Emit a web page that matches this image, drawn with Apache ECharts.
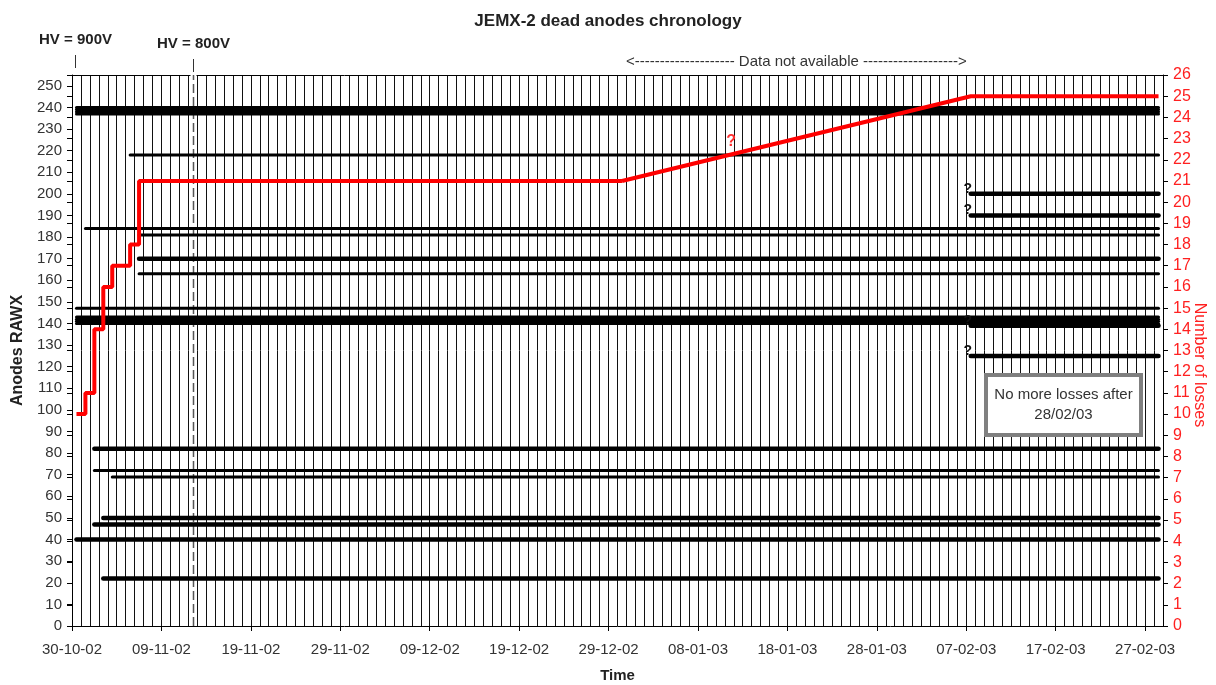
<!DOCTYPE html>
<html>
<head>
<meta charset="utf-8">
<script src="https://cdn.jsdelivr.net/npm/echarts@6/dist/echarts.min.js"></script>
<style>
  html, body { margin: 0; padding: 0; background: #fff; overflow: hidden; }
  #chart { width: 1216px; height: 685px; }
</style>
</head>
<body>
<div id="chart"></div>
<script>
// ---------------- DATA ----------------
const axisStartDate = '2002-10-30';
const axisEndDate = '2003-03-01';      // right boundary of the time axis
const lastDataDate = '2003-02-28';
const xTickLabels = ['30-10-02','09-11-02','19-11-02','29-11-02','09-12-02','19-12-02','29-12-02','08-01-03','18-01-03','28-01-03','07-02-03','17-02-03','27-02-03'];
const rawxTicks = [0,10,20,30,40,50,60,70,80,90,100,110,120,130,140,150,160,170,180,190,200,210,220,230,240,250];
const lossTicks = [0,1,2,3,4,5,6,7,8,9,10,11,12,13,14,15,16,17,18,19,20,21,22,23,24,25,26];

// dead anodes: RAWX and date of loss
const anodeRawx = [237,238,239,240,147,140,141,142,143,40,
                   184,
                   82,72,47,
                   50,22,
                   69,
                   218,
                   181,170,163,
                   200,190,139,125];
const anodeLossDate = ['2002-10-30','2002-10-30','2002-10-30','2002-10-30','2002-10-30','2002-10-30','2002-10-30','2002-10-30','2002-10-30','2002-10-30',
                       '2002-10-31',
                       '2002-11-01','2002-11-01','2002-11-01',
                       '2002-11-02','2002-11-02',
                       '2002-11-03',
                       '2002-11-05',
                       '2002-11-06','2002-11-06','2002-11-06',
                       '2003-02-07','2003-02-07','2003-02-07','2003-02-07'];
const anodeDateUncertain = [false,false,false,false,false,false,false,false,false,false,
                            false,false,false,false,false,false,false,false,false,false,false,
                            true,true,true,true];

// cumulative number of losses (known daily record)
const lossDates = ['2002-10-30','2002-10-31','2002-11-01','2002-11-02','2002-11-03','2002-11-05','2002-11-06','2002-12-30'];
const lossCounts = [10,11,14,16,17,18,21,21];
// period without data, then final value
const gapDates = ['2002-12-30','2003-02-07','2003-02-28'];
const gapCounts = [21,25,25];

// HV changes
const hvDates = ['2002-10-30','2002-11-12'];
const hvLabels = ['HV = 900V','HV = 800V'];

// ---------------- HELPERS ----------------
const DAY = 86400000;
function parseISO(s){ const p = s.split('-').map(Number); return Date.UTC(p[0], p[1]-1, p[2]); }
function parseLabel(s){ const p = s.split('-').map(Number); return Date.UTC(2000+p[2], p[1]-1, p[0]); }
const t0 = parseISO(axisStartDate);
const dayOf = s => (parseISO(s) - t0) / DAY;        // slot boundary
const mid = s => dayOf(s) + 0.5;                     // centre of a date slot
const xMax = dayOf(axisEndDate);
const xTickDays = xTickLabels.map(l => (parseLabel(l) - t0) / DAY);
function fmtDay(d){
  const dt = new Date(t0 + d*DAY);
  const p = n => String(n).padStart(2,'0');
  return p(dt.getUTCDate()) + '-' + p(dt.getUTCMonth()+1) + '-' + p(dt.getUTCFullYear()%100);
}

const FONT = 'Liberation Sans, Arial, sans-serif';
const thick = new Set([170,50,47,40,22,200,190,139,125,82]);

// ---------------- SERIES ----------------
const series = [];
anodeRawx.forEach((v, i) => {
  series.push({
    type: 'line', xAxisIndex: 0, yAxisIndex: 0, z: 3, silent: true,
    symbol: 'none', animation: false,
    lineStyle: { color: '#000', width: thick.has(v) ? 4.5 : 3, cap: 'round' },
    data: [[mid(anodeLossDate[i]), v], [mid(lastDataDate), v]]
  });
});
series.push({
  type: 'line', xAxisIndex: 0, yAxisIndex: 1, z: 5, silent: true, animation: false,
  symbol: 'none', step: 'end',
  lineStyle: { color: '#ff0000', width: 4 },
  data: lossDates.map((d, i) => [mid(d), lossCounts[i]])
});
series.push({
  type: 'line', xAxisIndex: 0, yAxisIndex: 1, z: 5, silent: true, animation: false,
  symbol: 'none',
  lineStyle: { color: '#ff0000', width: 4 },
  data: gapDates.map((d, i) => [mid(d), gapCounts[i]])
});

const labelColor = '#333';
const option = {
  animation: false,
  backgroundColor: '#fff',
  title: {
    text: 'JEMX-2 dead anodes chronology', left: 'center', top: 8,
    textStyle: { fontFamily: FONT, fontSize: 17, fontWeight: 'bold', color: '#222' }
  },
  grid: { left: 72, right: 53, top: 75, bottom: 59, containLabel: false, outerBoundsMode: 'none' },
  xAxis: [
    {
      type: 'value', min: 0, max: xMax, position: 'bottom',
      name: 'Time', nameLocation: 'middle', nameGap: 42,
      nameTextStyle: { fontFamily: FONT, fontSize: 15, fontWeight: 'bold', color: '#222' },
      axisLine: { show: true, onZero: false, lineStyle: { color: '#000', width: 1 } },
      axisTick: { show: true, length: 5, customValues: xTickDays, lineStyle: { color: '#000' } },
      axisLabel: { customValues: xTickDays, formatter: v => fmtDay(v), margin: 16,
                   fontFamily: FONT, fontSize: 15, color: labelColor },
      splitLine: { show: false }
    },
    {
      type: 'value', min: 0, max: xMax, interval: 1, position: 'top',
      axisLine: { show: true, onZero: false, lineStyle: { color: '#000', width: 1 } },
      axisTick: { show: false }, axisLabel: { show: false },
      splitLine: { show: true, lineStyle: { color: '#111', width: 1 } }
    }
  ],
  yAxis: [
    {
      type: 'value', min: 0, max: 255, position: 'left',
      name: 'Anodes RAWX', nameLocation: 'middle', nameGap: 46, nameRotate: 90,
      nameTextStyle: { fontFamily: FONT, fontSize: 16, fontWeight: 'bold', color: '#222' },
      axisLine: { show: true, onZero: false, lineStyle: { color: '#000' } },
      axisTick: { show: true, length: 5, customValues: rawxTicks, lineStyle: { color: '#000' } },
      axisLabel: { customValues: rawxTicks, margin: 10, fontFamily: FONT, fontSize: 15, color: labelColor },
      splitLine: { show: false }
    },
    {
      type: 'value', min: 0, max: 26, position: 'right',
      axisLine: { show: true, onZero: false, lineStyle: { color: '#000' } },
      axisTick: { show: true, length: 5, customValues: lossTicks, lineStyle: { color: '#000' } },
      axisLabel: { customValues: lossTicks, margin: 10, fontFamily: FONT, fontSize: 16, color: '#ff2020' },
      splitLine: { show: false }
    },
    {
      type: 'value', min: 0, max: 26, position: 'right',
      axisLine: { show: false },
      axisTick: { show: true, inside: true, length: 5, customValues: lossTicks, lineStyle: { color: '#000' } },
      axisLabel: { show: false },
      splitLine: { show: false }
    }
  ],
  series: series
};

const chart = echarts.init(document.getElementById('chart'), null, { renderer: 'canvas' });
chart.setOption(option);

// ---------------- ANNOTATIONS ----------------
const px = (d, v, yi) => chart.convertToPixel({ xAxisIndex: 0, yAxisIndex: yi || 0 }, [d, v]);
const graphics = [];
// HV = 800V dashed vertical line (under the anode lines)
{
  const x = Math.round(px(mid(hvDates[1]), 0)[0]) + 0.5;
  const yb = px(0, 0)[1], yt = px(0, 255)[1];
  graphics.push({ type: 'line', z: 1, silent: true, shape: { x1: x, y1: yb, x2: x, y2: yt }, style: { stroke: '#fff', lineWidth: 6 } });
  graphics.push({ type: 'line', z: 1, silent: true, shape: { x1: x, y1: yb, x2: x, y2: yt }, style: { stroke: '#555', lineWidth: 1.5, lineDash: [9, 4] } });
}
hvDates.forEach((d, i) => {
  const x = Math.round(px(i === 0 ? dayOf(d) + 0.35 : mid(d), 0)[0]) + 0.5;
  const yTop = i === 0 ? 55 : 59;
  graphics.push({ type: 'line', shape: { x1: x, y1: yTop, x2: x, y2: yTop + 13 }, style: { stroke: '#333', lineWidth: 1 } });
  graphics.push({ type: 'text', x: x, y: yTop - 15,
    style: { text: hvLabels[i], fontFamily: FONT, fontSize: 15, fontWeight: 'bold', fill: '#222', align: 'center', verticalAlign: 'middle' } });
});
const naLeft = px(mid(gapDates[0]), 0)[0], naRight = px(mid(gapDates[1]), 0)[0];
graphics.push({ type: 'text', x: (naLeft + naRight) / 2, y: 62,
  style: { text: '<-------------------- Data not available ------------------->', fontFamily: FONT, fontSize: 15, fill: '#333', align: 'center', verticalAlign: 'middle' } });
// right axis title (Excel placed it slightly below centre, overlapping the labels)
graphics.push({ type: 'text', x: 1199, y: 365, rotation: -Math.PI / 2, z: 20,
  style: { text: 'Number of losses', fontFamily: FONT, fontSize: 16, fill: '#ff2020', align: 'center', verticalAlign: 'middle' } });
// question marks on uncertain loss dates
anodeRawx.forEach((v, i) => {
  if (!anodeDateUncertain[i]) return;
  const p = px(mid(anodeLossDate[i]), v);
  graphics.push({ type: 'text', z: 10, x: p[0] - 3, y: p[1] - 5,
    style: { text: '?', fontFamily: FONT, fontSize: 14, fontWeight: 'bold', fill: '#111', align: 'center', verticalAlign: 'middle' } });
});
const q = px(73.7, 22.86, 1);
graphics.push({ type: 'text', z: 10, x: q[0], y: q[1],
  style: { text: '?', fontFamily: FONT, fontSize: 16, fontWeight: 'bold', fill: '#ff3030', align: 'center', verticalAlign: 'middle' } });
graphics.push({ type: 'rect', shape: { x: 986, y: 375, width: 155, height: 60 }, z: 100,
  style: { fill: '#fff', stroke: '#808080', lineWidth: 4 } });
graphics.push({ type: 'text', x: 1063.5, y: 405, z: 101,
  style: { text: 'No more losses after\n28/02/03', fontFamily: FONT, fontSize: 15, lineHeight: 20, fill: '#333', align: 'center', verticalAlign: 'middle' } });
chart.setOption({ graphic: graphics });
</script>
</body>
</html>
